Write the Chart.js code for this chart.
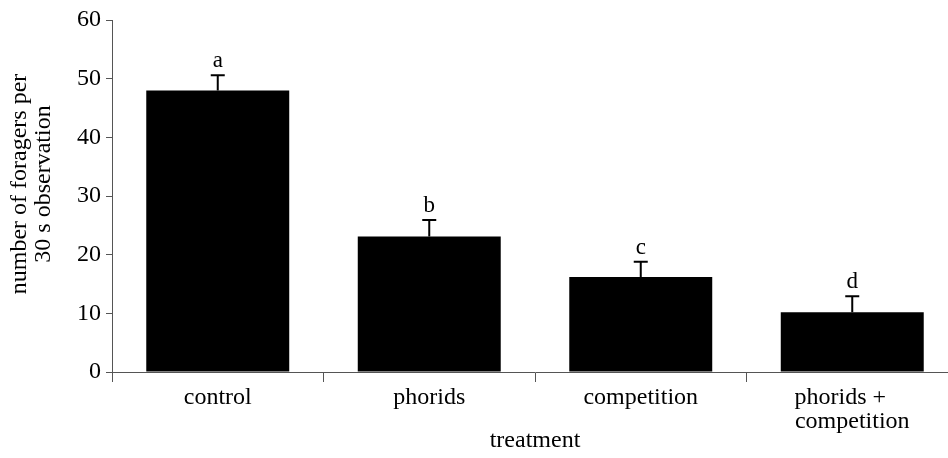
<!DOCTYPE html>
<html>
<head>
<meta charset="utf-8">
<script src="https://cdn.jsdelivr.net/npm/chart.js@4.4.1/dist/chart.umd.min.js"></script>
<style>
  html, body { margin: 0; padding: 0; background: #fff; }
  #wrap { width: 948px; height: 458px; overflow: hidden; }
</style>
</head>
<body>
<div id="wrap"><canvas id="forageChart" width="960" height="458"></canvas></div>
<script>
const categories = ["control", "phorids", "competition", ["phorids +    ", "competition"]];
const meanForagers = [48.0, 23.1, 16.2, 10.2];
const errorSE = [2.6, 2.8, 2.6, 2.7];
const groupLetters = ["a", "b", "c", "d"];
const yTicks = [0, 10, 20, 30, 40, 50, 60];
const yTitle = ["number of foragers per", "30 s observation"];

const serif = "'Liberation Serif', 'Times New Roman', serif";
const axisColor = "#555";

// error bars + significance letters on top of each bar
const errorBars = {
  id: "errorBars",
  afterDatasetsDraw(chart) {
    const ctx = chart.ctx;
    const yScale = chart.scales.y;
    const meta = chart.getDatasetMeta(0);
    ctx.save();
    meta.data.forEach((bar, i) => {
      const x = bar.x;
      const top = yScale.getPixelForValue(meanForagers[i]);
      const cap = yScale.getPixelForValue(meanForagers[i] + errorSE[i]);
      ctx.strokeStyle = "#000";
      ctx.lineWidth = 2;
      ctx.beginPath();
      ctx.moveTo(x, top);
      ctx.lineTo(x, cap);
      ctx.moveTo(x - 7, cap);
      ctx.lineTo(x + 7, cap);
      ctx.stroke();
      ctx.fillStyle = "#000";
      ctx.font = "23px " + serif;
      ctx.textAlign = "center";
      ctx.textBaseline = "alphabetic";
      ctx.fillText(groupLetters[i], x, cap - 8);
    });
    ctx.restore();
  }
};

// rotated two-line y axis title, sitting a bit above the plot centre like the original
const yAxisTitle = {
  id: "yAxisTitle",
  afterDraw(chart) {
    const ctx = chart.ctx;
    const area = chart.chartArea;
    const midY = (area.top + area.bottom) / 2 - 12;
    ctx.save();
    ctx.translate(20, midY);
    ctx.rotate(-Math.PI / 2);
    ctx.fillStyle = "#000";
    ctx.font = "24px " + serif;
    ctx.textAlign = "center";
    ctx.textBaseline = "middle";
    yTitle.forEach((line, i) => ctx.fillText(line, 0, i * 24));
    ctx.restore();
  }
};

new Chart("forageChart", {
  type: "bar",
  data: {
    labels: categories,
    datasets: [{
      data: meanForagers,
      backgroundColor: "#000",
      borderWidth: 0,
      barPercentage: 0.676,
      categoryPercentage: 1.0
    }]
  },
  options: {
    responsive: false,
    animation: false,
    layout: { padding: { top: 20, left: 0, right: 2, bottom: 0 } },
    plugins: {
      legend: { display: false },
      tooltip: { enabled: false }
    },
    scales: {
      x: {
        grid: { offset: true, drawOnChartArea: false, tickLength: 10, color: axisColor },
        border: { color: axisColor },
        ticks: { color: "#000", font: { family: serif, size: 24, lineHeight: 1.0 }, padding: 4, maxRotation: 0 },
        title: { display: true, text: "treatment", color: "#000", font: { family: serif, size: 24, lineHeight: 1.0 }, padding: { top: 4, bottom: 5 } },
        afterFit(scale) { scale.height = 86; }
      },
      y: {
        min: 0,
        max: 60,
        afterBuildTicks(scale) { scale.ticks = yTicks.map(v => ({ value: v })); },
        grid: { drawOnChartArea: false, tickLength: 6, color: axisColor },
        border: { color: axisColor },
        ticks: { color: "#000", font: { family: serif, size: 24 }, padding: 5 },
        afterFit(scale) { scale.width = 112; }
      }
    }
  },
  plugins: [errorBars, yAxisTitle]
});
</script>
</body>
</html>
